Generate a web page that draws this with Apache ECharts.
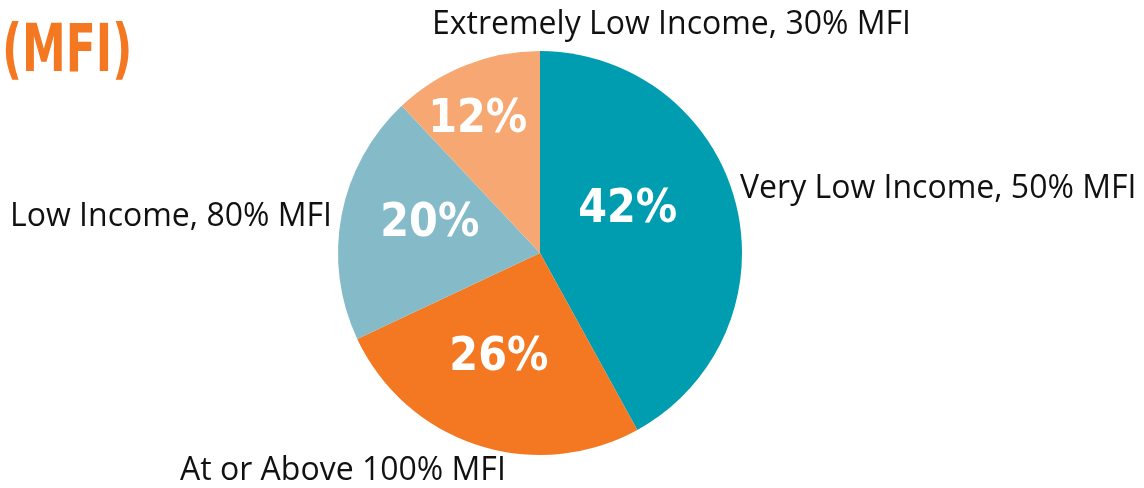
<!DOCTYPE html>
<html>
<head>
<meta charset="utf-8">
<script src="https://cdn.jsdelivr.net/npm/echarts@6/dist/echarts.min.js"></script>
<style>
  html, body { margin: 0; padding: 0; background: #fff; }
  #chart { width: 1144px; height: 488px; }
</style>
</head>
<body>
<div id="chart"></div>
<script>
// 收入分组 (MFI) 占比
const categories = [
  'Very Low Income, 50% MFI',
  'At or Above 100% MFI',
  'Low Income, 80% MFI',
  'Extremely Low Income, 30% MFI'
];
const shares = [42, 26, 20, 12];
const sliceColors = ['#009db0', '#f47721', '#85bbc8', '#f7a872'];

// label placement (text only, not marks)
const outerLabelPos = [
  {x: 740, y: 189},
  {x: 180, y: 471},
  {x: 10, y: 217},
  {x: 432, y: 25}
];
const innerLabelShift = [
  {dx: -13, dy: -17},
  {dx: -9, dy: 6},
  {dx: -8, dy: -9},
  {dx: -24, dy: -36}
];

const chart = echarts.init(document.getElementById('chart'));
const pieData = categories.map((name, i) => ({
  name,
  value: shares[i],
  itemStyle: {color: sliceColors[i]}
}));

const condensed = '"DejaVu Sans Condensed", "Liberation Sans Narrow", "Noto Sans", sans-serif';

const option = {
  animation: false,
  // 标题用 graphic 以便横向压缩
  graphic: [
    {
      type: 'text',
      left: 2,
      top: 21,
      scaleX: 0.74,
      style: {
        text: '(MFI)',
        fill: '#f47721',
        fontSize: 66,
        fontWeight: 'bold',
        fontFamily: condensed
      }
    }
  ],
  series: [
    {
      type: 'pie',
      center: [540, 253],
      radius: [0, 202],
      startAngle: 90,
      clockwise: true,
      silent: true,
      data: pieData,
      itemStyle: {borderWidth: 0},
      label: {
        show: true,
        position: 'inside',
        formatter: '{c}%',
        color: '#fff',
        fontSize: 46,
        fontWeight: 'bold',
        fontFamily: condensed
      },
      labelLine: {show: false},
      labelLayout: (params) => innerLabelShift[params.dataIndex]
    },
    {
      type: 'pie',
      center: [540, 253],
      radius: [0, 202],
      startAngle: 90,
      clockwise: true,
      silent: true,
      data: pieData.map(d => ({name: d.name, value: d.value, itemStyle: {color: 'rgba(0,0,0,0)'}})),
      label: {
        show: true,
        position: 'outside',
        formatter: '{b}',
        color: '#111',
        fontSize: 32,
        overflow: 'none',
        width: 600,
        fontFamily: '"Open Sans", sans-serif'
      },
      labelLine: {show: false},
      labelLayout: (params) => {
        const p = outerLabelPos[params.dataIndex];
        return {x: p.x, y: p.y, align: 'left', verticalAlign: 'middle'};
      }
    }
  ]
};

chart.setOption(option);
</script>
</body>
</html>
